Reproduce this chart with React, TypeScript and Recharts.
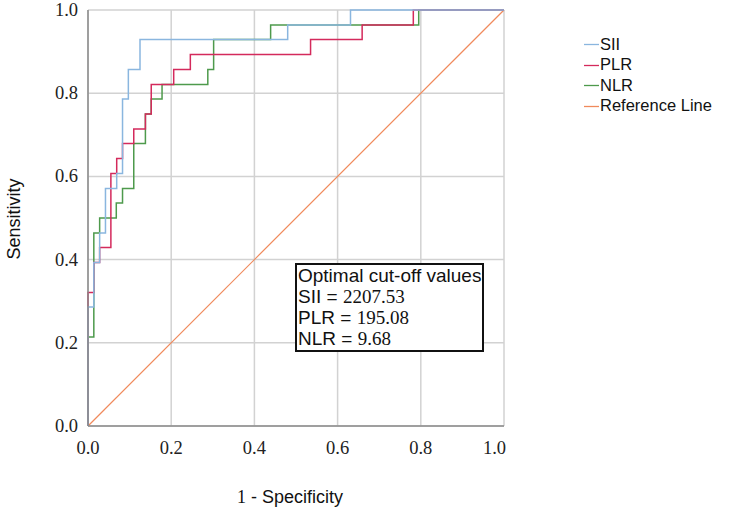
import { CartesianGrid, Line, LineChart, XAxis, YAxis } from 'recharts';

// ROC points (1 - specificity, sensitivity), drawn as step-after curves
const siiFpr = [0, 0, 0.014, 0.028, 0.042, 0.069, 0.083, 0.097, 0.125, 0.48, 0.631, 1];
const siiTpr = [0, 0.286, 0.393, 0.464, 0.571, 0.607, 0.786, 0.857, 0.929, 0.964, 1, 1];

const plrFpr = [0, 0, 0.014, 0.028, 0.055, 0.069, 0.083, 0.11, 0.138, 0.152, 0.206, 0.246, 0.535, 0.659, 0.782, 1];
const plrTpr = [0, 0.321, 0.393, 0.429, 0.607, 0.643, 0.679, 0.714, 0.75, 0.821, 0.857, 0.893, 0.929, 0.964, 1, 1];

const nlrFpr = [0, 0, 0.014, 0.028, 0.068, 0.083, 0.11, 0.138, 0.152, 0.178, 0.288, 0.302, 0.439, 0.795, 1];
const nlrTpr = [0, 0.214, 0.464, 0.5, 0.536, 0.571, 0.679, 0.75, 0.786, 0.821, 0.857, 0.929, 0.964, 1, 1];

const refFpr = [0, 1];
const refTpr = [0, 1];

const axisTicks = [0, 0.2, 0.4, 0.6, 0.8, 1];

const seriesNames = ['SII', 'PLR', 'NLR', 'Reference Line'];
const seriesColors = ['#8ab6df', '#d42a5c', '#4e9a4c', '#f08a5c'];

const cutoffLabels = ['SII', 'PLR', 'NLR'];
const cutoffValues = ['2207.53', '195.08', '9.68'];

const toPoints = (xs: number[], ys: number[]) => xs.map((x, i) => ({ x, y: ys[i] }));

const sii = toPoints(siiFpr, siiTpr);
const plr = toPoints(plrFpr, plrTpr);
const nlr = toPoints(nlrFpr, nlrTpr);
const ref = toPoints(refFpr, refTpr);

const serif = '"Liberation Serif", "DejaVu Serif", serif';
const sans = '"Liberation Sans", Arial, sans-serif';

const XTick = ({ x, y, payload }: any) => {
    const last = payload.value === 1;
    return (
        <text
            x={last ? x + 2 : x}
            y={y + 20}
            textAnchor={last ? 'end' : 'middle'}
            fontFamily={serif}
            fontSize={18.5}
            fill="#222"
        >
            {payload.value.toFixed(1)}
        </text>
    );
};

const YTick = ({ x, y, payload }: any) => (
    <text x={x - 2} y={y + 6} textAnchor="end" fontFamily={serif} fontSize={18.5} fill="#222">
        {payload.value.toFixed(1)}
    </text>
);

export default function App() {
    return (
        <div style={{ position: 'absolute', left: 0, top: 0, width: 735, height: 512, background: '#fff' }}>
            <LineChart width={735} height={512} margin={{ top: 10, right: 231, left: 0, bottom: 56 }}>
                <CartesianGrid stroke="#d2d2d2" strokeWidth={1.5} />
                <XAxis
                    type="number"
                    dataKey="x"
                    domain={[0, 1]}
                    ticks={axisTicks}
                    tick={<XTick />}
                    tickLine={false}
                    stroke="#8a8a8a"
                    strokeWidth={1.5}
                    height={30}
                    allowDuplicatedCategory={false}
                />
                <YAxis
                    type="number"
                    dataKey="y"
                    domain={[0, 1]}
                    ticks={axisTicks}
                    tick={<YTick />}
                    tickLine={false}
                    stroke="#8a8a8a"
                    strokeWidth={1.5}
                    width={88}
                />
                <Line data={ref} dataKey="y" type="linear" stroke={seriesColors[3]} strokeWidth={1.2} dot={false} isAnimationActive={false} />
                <Line data={nlr} dataKey="y" type="stepAfter" stroke={seriesColors[2]} strokeWidth={1.5} dot={false} isAnimationActive={false} />
                <Line data={plr} dataKey="y" type="stepAfter" stroke={seriesColors[1]} strokeWidth={1.5} dot={false} isAnimationActive={false} />
                <Line data={sii} dataKey="y" type="stepAfter" stroke={seriesColors[0]} strokeWidth={1.5} dot={false} isAnimationActive={false} />
            </LineChart>

            <div
                style={{
                    position: 'absolute', left: -36, top: 208, width: 100, height: 22,
                    transform: 'rotate(-90deg)', transformOrigin: 'center',
                    textAlign: 'center', whiteSpace: 'nowrap',
                    fontFamily: sans, fontSize: 18, color: '#111', lineHeight: '22px',
                }}
            >
                Sensitivity
            </div>
            <div
                style={{
                    position: 'absolute', left: 190, top: 485, width: 200, textAlign: 'center',
                    fontSize: 18, lineHeight: '24px', color: '#111',
                }}
            >
                <span style={{ fontFamily: serif }}>1</span>
                <span style={{ fontFamily: sans }}> - Specificity</span>
            </div>

            <div style={{ position: 'absolute', left: 583, top: 34 }}>
                {seriesNames.map((name, i) => (
                    <div key={name} style={{ display: 'flex', alignItems: 'center', height: 20.5 }}>
                        <svg width={17} height={20}>
                            <line x1={1} y1={10.5} x2={16} y2={10.5} stroke={seriesColors[i]} strokeWidth={1.3} />
                        </svg>
                        <span style={{ fontFamily: sans, fontSize: 16.5, color: '#111', whiteSpace: 'nowrap' }}>{name}</span>
                    </div>
                ))}
            </div>

            <div
                style={{
                    position: 'absolute', left: 295, top: 263, width: 184, height: 85,
                    border: '2px solid #111', background: '#fff', padding: '0 0 0 1px',
                    fontSize: 19, lineHeight: '21px', color: '#111', whiteSpace: 'nowrap',
                }}
            >
                <div style={{ fontFamily: sans }}>Optimal cut-off values</div>
                {cutoffLabels.map((label, i) => (
                    <div key={label}>
                        <span style={{ fontFamily: sans }}>{label} = </span>
                        <span style={{ fontFamily: serif }}>{cutoffValues[i]}</span>
                    </div>
                ))}
            </div>
        </div>
    );
}
